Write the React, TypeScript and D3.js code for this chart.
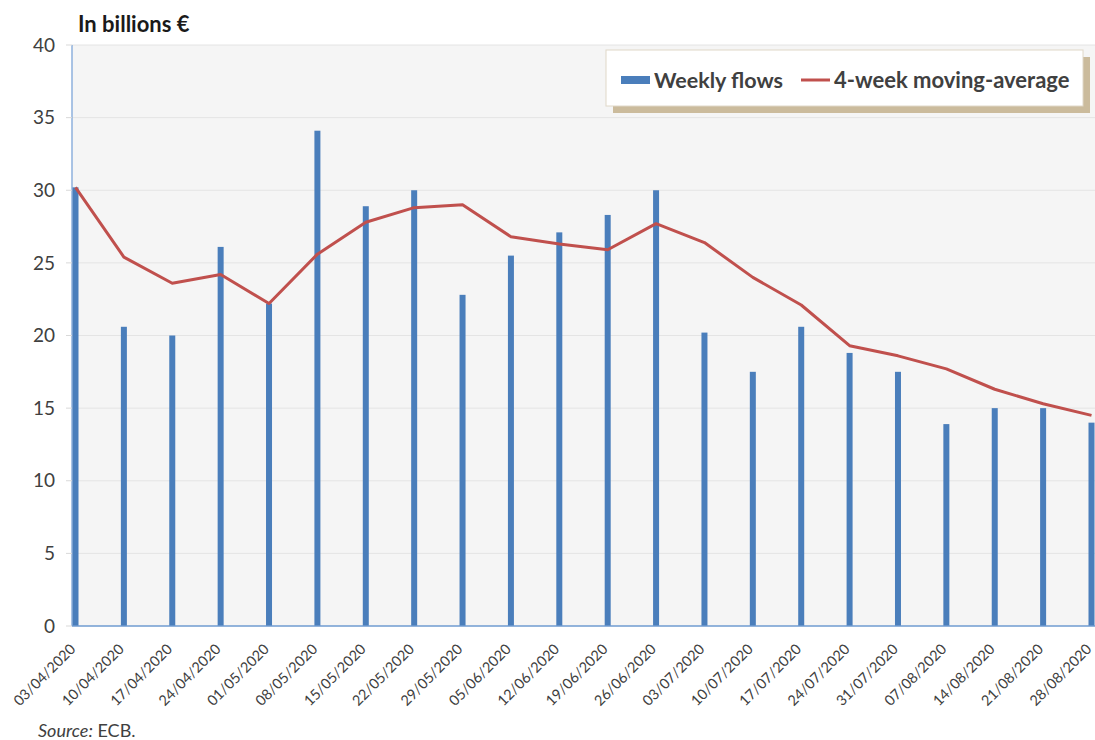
import React from "react";
import * as d3 from "d3";

const dates = [
    "03/04/2020", "10/04/2020", "17/04/2020", "24/04/2020", "01/05/2020", "08/05/2020",
    "15/05/2020", "22/05/2020", "29/05/2020", "05/06/2020", "12/06/2020", "19/06/2020",
    "26/06/2020", "03/07/2020", "10/07/2020", "17/07/2020", "24/07/2020", "31/07/2020",
    "07/08/2020", "14/08/2020", "21/08/2020", "28/08/2020"
];

const weeklyFlows = [
    30.2, 20.6, 20.0, 26.1, 22.2, 34.1, 28.9, 30.0, 22.8, 25.5, 27.1, 28.3,
    30.0, 20.2, 17.5, 20.6, 18.8, 17.5, 13.9, 15.0, 15.0, 14.0
];

const movingAverage = [
    30.2, 25.4, 23.6, 24.2, 22.2, 25.6, 27.8, 28.8, 29.0, 26.8, 26.3, 25.9,
    27.7, 26.4, 24.0, 22.1, 19.3, 18.6, 17.7, 16.3, 15.3, 14.5
];

const yTicks = [0, 5, 10, 15, 20, 25, 30, 35, 40];

const font = "Lato, 'Open Sans', sans-serif";
const textColor = "#404040";

const App = () => {
    const layout = { width: 1095, height: 740, left: 72, right: 1095, top: 45, bottom: 626 };

    const xScale = d3.scalePoint<string>().domain(dates).range([75.5, 1091.5]);
    const yScale = d3.scaleLinear().domain([0, 40]).range([layout.bottom, layout.top]);

    const lineGenerator = d3
        .line<number>()
        .x((d, i) => xScale(dates[i]) as number)
        .y(d => yScale(d));

    const barWidth = 6;

    return (
        <svg
            width={layout.width}
            height={layout.height}
            style={{ position: "absolute", left: 0, top: 0, background: "#ffffff" }}
        >
            {/* plot background */}
            <rect
                x={layout.left}
                y={layout.top}
                width={layout.right - layout.left}
                height={layout.bottom - layout.top}
                fill="#f5f5f5"
            />
            {/* gridlines */}
            {yTicks.slice(1).map(t => (
                <line
                    key={"g" + t}
                    x1={layout.left}
                    x2={layout.right}
                    y1={yScale(t)}
                    y2={yScale(t)}
                    stroke="#e4e4e4"
                    strokeWidth={1}
                />
            ))}
            {/* y axis */}
            <line x1={layout.left} x2={layout.left} y1={layout.top} y2={layout.bottom} stroke="#8eb0dc" strokeWidth={1.5} />
            {yTicks.map(t => (
                <g key={"y" + t}>
                    <line x1={layout.left - 6} x2={layout.left} y1={yScale(t)} y2={yScale(t)} stroke="#d9d9d9" />
                    <text
                        x={55}
                        y={yScale(t)}
                        dy="0.35em"
                        textAnchor="end"
                        fontFamily={font}
                        fontSize={19}
                        fill={textColor}
                    >
                        {t}
                    </text>
                </g>
            ))}
            {/* bars */}
            {weeklyFlows.map((v, i) => (
                <rect
                    key={"b" + i}
                    x={(xScale(dates[i]) as number) - barWidth / 2}
                    y={yScale(v)}
                    width={barWidth}
                    height={yScale(0) - yScale(v)}
                    fill="#4a7ebb"
                />
            ))}
            {/* x axis */}
            <line x1={layout.left} x2={layout.right} y1={layout.bottom} y2={layout.bottom} stroke="#6f9bd1" strokeWidth={1.5} />
            {dates.map(d => {
                const x = (xScale(d) as number) + 1;
                const y = 650;
                return (
                    <text
                        key={"x" + d}
                        x={x}
                        y={y}
                        transform={`rotate(-45, ${x}, ${y})`}
                        textAnchor="end"
                        fontFamily={font}
                        fontSize={14.5}
                        fill={textColor}
                    >
                        {d}
                    </text>
                );
            })}
            {/* moving average */}
            <path d={lineGenerator(movingAverage) ?? ""} fill="none" stroke="#c0504d" strokeWidth={3} strokeLinejoin="round" />
            {/* legend */}
            <rect x={613} y={57} width={477} height={56} fill="#cbbb9c" />
            <rect x={606} y={50} width={477} height={56} fill="#ffffff" stroke="#e0d8c8" strokeWidth={1} />
            <rect x={621} y={76} width={29} height={8} fill="#4a7ebb" />
            <text x={654} y={80} dy="0.35em" fontFamily={font} fontWeight="bold" fontSize={21.5} fill={textColor}>
                Weekly flows
            </text>
            <line x1={801} x2={830} y1={80} y2={80} stroke="#c0504d" strokeWidth={3} />
            <text x={834} y={80} dy="0.35em" fontFamily={font} fontWeight="bold" fontSize={22} fill={textColor}>
                4-week moving-average
            </text>
            {/* title */}
            <text x={78} y={32} fontFamily={font} fontWeight="bold" fontSize={22} fill="#1a1a1a">
                In billions €
            </text>
            {/* source */}
            <text x={38} y={737} fontFamily={font} fontSize={18} fill={textColor}>
                <tspan fontStyle="italic">Source:</tspan> ECB.
            </text>
        </svg>
    );
};

export default App;
